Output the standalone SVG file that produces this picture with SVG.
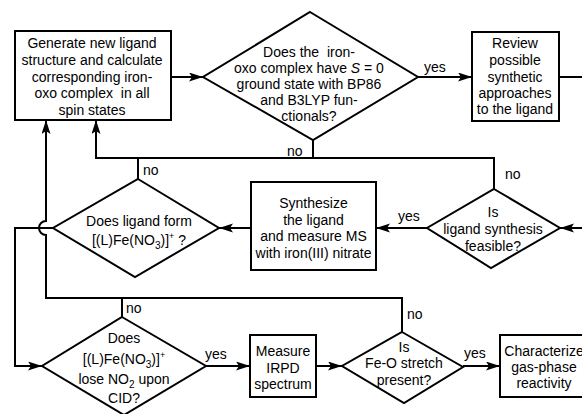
<svg xmlns="http://www.w3.org/2000/svg" width="582" height="414" viewBox="0 0 582 414">
<style>
text{font-family:"Liberation Sans",Arial,sans-serif;font-size:14px;fill:#000;text-anchor:middle}
.lbl{text-anchor:start}
.shape{fill:#fff;stroke:#000;stroke-width:2}
.c{fill:none;stroke:#000;stroke-width:2}
</style>
<defs>
<marker id="ah" markerUnits="userSpaceOnUse" markerWidth="16" markerHeight="10" refX="14" refY="4.5" orient="auto">
<path d="M0,0 L14,4.5 L0,9 L3,4.5 z" fill="#000"/>
</marker>
</defs>
<rect width="582" height="414" fill="#fff"/>
<g id="connectors">
<path class="c" d="M171,77 H203" marker-end="url(#ah)"/>
<path class="c" d="M418,77 H472" marker-end="url(#ah)"/>
<path class="c" d="M559,77 H584"/>
<path class="c" d="M584,228 H560" marker-end="url(#ah)"/>
<path class="c" d="M313,140 V158"/>
<path class="c" d="M494,189 V158 H96 V120" marker-end="url(#ah)"/>
<path class="c" d="M138,179 V158"/>
<path class="c" d="M427,228 H376" marker-end="url(#ah)"/>
<path class="c" d="M251,228 H219" marker-end="url(#ah)"/>
<path class="c" d="M53,228 H15 V366 H42" marker-end="url(#ah)"/>
<path class="c" d="M122,317 V298"/>
<path class="c" d="M402,332 V298 H46 V235 A7,7 0 0 1 46,221 V120" marker-end="url(#ah)"/>
<path class="c" d="M206,366 H250" marker-end="url(#ah)"/>
<path class="c" d="M316,366 H342" marker-end="url(#ah)"/>
<path class="c" d="M463,366 H500" marker-end="url(#ah)"/>
<text class="lbl" x="287" y="156">no</text>
<text class="lbl" x="424" y="72">yes</text>
<text class="lbl" x="505" y="179">no</text>
<text class="lbl" x="398" y="221">yes</text>
<text class="lbl" x="143" y="175">no</text>
<text class="lbl" x="126" y="313">no</text>
<text class="lbl" x="205" y="359">yes</text>
<text class="lbl" x="407" y="319">no</text>
<text class="lbl" x="464" y="358">yes</text>
</g>
<g id="generate">
<rect class="shape" x="15" y="31" width="156" height="89"/>
<text x="92" y="48">Generate new ligand</text>
<text x="92" y="65">structure and calculate</text>
<text x="92" y="82">corresponding iron-</text>
<text x="92" y="98">oxo complex&#160; in all</text>
<text x="92" y="115">spin states</text>
</g>
<g id="q-spin">
<polygon class="shape" points="310,12 418,77 313,140 203,77"/>
<text x="309" y="57">Does the&#160; iron-</text>
<text x="309" y="73">oxo complex have <tspan font-style="italic">S</tspan> = 0</text>
<text x="309" y="89">ground state with BP86</text>
<text x="309" y="105">and B3LYP fun-</text>
<text x="309" y="121">ctionals?</text>
</g>
<g id="review">
<rect class="shape" x="472" y="32" width="87" height="89"/>
<text x="515" y="48">Review</text>
<text x="515" y="65">possible</text>
<text x="515" y="82">synthetic</text>
<text x="515" y="98">approaches</text>
<text x="515" y="114">to the ligand</text>
</g>
<g id="q-feasible">
<polygon class="shape" points="494,189 560,228 491,268 427,228"/>
<text x="493" y="217">Is</text>
<text x="493" y="234">ligand synthesis</text>
<text x="493" y="251">feasible?</text>
</g>
<g id="synthesize">
<rect class="shape" x="251" y="182" width="125" height="88"/>
<text x="313.5" y="208">Synthesize</text>
<text x="313.5" y="225">the ligand</text>
<text x="313.5" y="241">and measure MS</text>
<text x="313.5" y="258">with iron(III) nitrate</text>
</g>
<g id="q-form">
<polygon class="shape" points="138,179 219,228 135,277 53,228"/>
<text x="139" y="226">Does ligand form</text>
<text x="139" y="245">[(L)Fe(NO<tspan dy="4" font-size="10">3</tspan><tspan dy="-4">)]</tspan><tspan dy="-6" font-size="9">+</tspan><tspan dy="6"> ?</tspan></text>
</g>
<g id="q-lose">
<polygon class="shape" points="122,317 206,366 124,415 42,366"/>
<text x="124" y="343">Does</text>
<text x="124" y="364">[(L)Fe(NO<tspan dy="4" font-size="10">3</tspan><tspan dy="-4">)]</tspan><tspan dy="-6" font-size="9">+</tspan></text>
<text x="124" y="384">lose NO<tspan dy="4" font-size="10">2</tspan><tspan dy="-4"> upon</tspan></text>
<text x="124" y="403">CID?</text>
</g>
<g id="measure">
<rect class="shape" x="250" y="335" width="66" height="62"/>
<text x="283" y="356">Measure</text>
<text x="283" y="373">IRPD</text>
<text x="283" y="389">spectrum</text>
</g>
<g id="q-stretch">
<polygon class="shape" points="402,332 463,367 404,403 342,366"/>
<text x="404" y="352">Is</text>
<text x="404" y="368">Fe-O stretch</text>
<text x="404" y="385">present?</text>
</g>
<g id="characterize">
<rect class="shape" x="500" y="335" width="92" height="62"/>
<text x="544" y="356">Characterize</text>
<text x="544" y="372">gas-phase</text>
<text x="544" y="388">reactivity</text>
</g>
</svg>
